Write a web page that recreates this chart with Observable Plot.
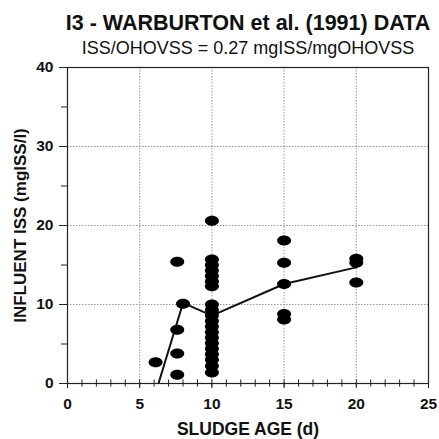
<!DOCTYPE html>
<html><head><meta charset="utf-8">
<script src="https://cdn.jsdelivr.net/npm/d3@7"></script>
<script src="https://cdn.jsdelivr.net/npm/@observablehq/plot@0.6"></script>
<style>body{margin:0;background:#fff;font-family:"Liberation Sans",Arial,sans-serif;}</style>
</head><body><div id="chart"></div>
<script>
const obsAge = [6.1, 7.6, 7.6, 7.6, 7.6, 8.0,
  10, 10, 10, 10, 10, 10, 10,
  10, 10, 10, 10, 10, 10, 10, 10, 10, 10, 10, 10, 10,
  15, 15, 15, 15, 15, 20, 20, 20];
const obsISS = [2.7, 15.4, 6.8, 3.8, 1.1, 10.1,
  20.6, 15.7, 15.0, 14.3, 13.6, 12.9, 12.3,
  10.0, 9.3, 8.6, 7.9, 7.2, 6.5, 5.8, 5.1, 4.4, 3.7, 3.0, 2.2, 1.4,
  18.1, 15.3, 12.6, 8.8, 8.1, 15.8, 15.3, 12.8];
const modelAge = [6.3, 8.0, 10, 15, 20];
const modelISS = [0, 10.2, 8.6, 12.6, 14.7];
const xMajor = [0, 5, 10, 15, 20, 25];
const xMinor = d3.range(0, 26, 1);
const yMajor = [0, 10, 20, 30, 40];
const yMinor = [5, 15, 25, 35];
const xGrid = [5, 10, 15, 20];
const yGrid = [10, 20, 30];
const titleText = "I3 - WARBURTON et al. (1991) DATA";
const subtitleText = "ISS/OHOVSS = 0.27 mgISS/mgOHOVSS";
const xLabel = "SLUDGE AGE (d)";
const yLabel = "INFLUENT ISS (mgISS/l)";

const obs = obsAge.map((a, i) => ({a, v: obsISS[i]}));
const model = modelAge.map((a, i) => ({a, v: modelISS[i]}));

const ellipse = {
  draw(ctx, size) {
    const rx = 7, ry = 5, k = 0.5523;
    ctx.moveTo(rx, 0);
    ctx.bezierCurveTo(rx, ry * k, rx * k, ry, 0, ry);
    ctx.bezierCurveTo(-rx * k, ry, -rx, ry * k, -rx, 0);
    ctx.bezierCurveTo(-rx, -ry * k, -rx * k, -ry, 0, -ry);
    ctx.bezierCurveTo(rx * k, -ry, rx, -ry * k, rx, 0);
    ctx.closePath();
  }
};

const font = '"Liberation Sans", Arial, sans-serif';
const plot = Plot.plot({
  width: 439, height: 439,
  marginTop: 67, marginBottom: 56, marginLeft: 67, marginRight: 11,
  style: {fontFamily: font, background: "#fff"},
  x: {type: "linear", domain: [0, 25], axis: null},
  y: {type: "linear", domain: [0, 40], axis: null},
  marks: [
    Plot.ruleX(xGrid, {stroke: "#999", strokeDasharray: "1.5,1.5", strokeWidth: 1}),
    Plot.ruleY(yGrid, {stroke: "#999", strokeDasharray: "1.5,1.5", strokeWidth: 1}),
    Plot.ruleX(xMinor, {x: d => d, y1: -0.45, y2: 0.45, stroke: "#222", strokeWidth: 1}),
    Plot.frame({stroke: "#222", strokeWidth: 1.2}),
    Plot.axisX({ticks: xMajor, tickSize: 5, tickPadding: 9, fontSize: 15.5, fontWeight: "bold", fill: "#111", stroke: "#222", label: null, tickFormat: d => d}),
    Plot.axisY({ticks: yMajor, tickSize: 8, tickPadding: 6, fontSize: 15.5, fontWeight: "bold", fill: "#111", stroke: "#222", label: null, tickFormat: d => d}),
    Plot.axisY({ticks: yMinor, tickSize: 6, tickFormat: () => "", stroke: "#222", label: null}),
    Plot.line(model, {x: "a", y: "v", stroke: "#111", strokeWidth: 2, clip: true}),
    Plot.dot(obs, {x: "a", y: "v", symbol: ellipse, fill: "#000", stroke: "none"}),
    Plot.text([titleText], {frameAnchor: "top", lineAnchor: "middle", textAnchor: "middle", dy: -44.5, fontSize: 21.5, fontWeight: "bold", fill: "#111", text: d => d}),
    Plot.text([subtitleText], {frameAnchor: "top", lineAnchor: "middle", textAnchor: "middle", dy: -19.5, fontSize: 18, fill: "#111", text: d => d}),
    Plot.text([xLabel], {frameAnchor: "bottom", lineAnchor: "middle", textAnchor: "middle", dy: 46, fontSize: 17.5, fontWeight: "bold", fill: "#111", text: d => d}),
    Plot.text([yLabel], {frameAnchor: "left", lineAnchor: "middle", textAnchor: "middle", dx: -47, rotate: -90, fontSize: 17, fontWeight: "bold", fill: "#111", text: d => d})
  ]
});
document.getElementById("chart").appendChild(plot);
</script>
</body></html>
